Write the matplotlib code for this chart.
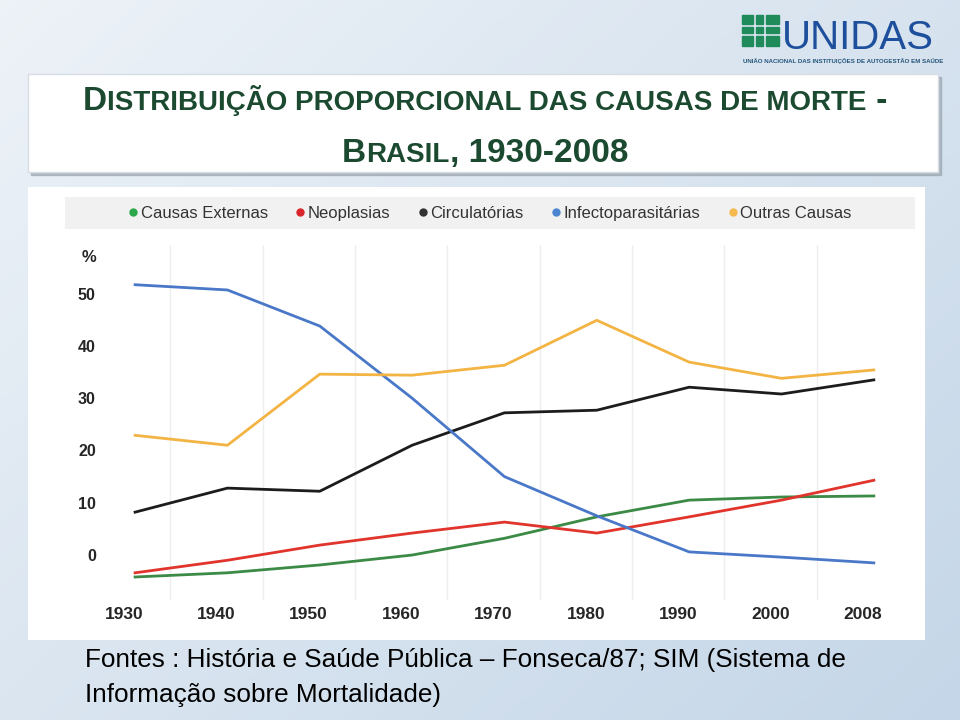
import numpy as np
import matplotlib
matplotlib.use("Agg")
import matplotlib.pyplot as plt
from matplotlib.patches import Rectangle
from matplotlib.lines import Line2D

# dados (% sobre o eixo como desenhado)
anos = ["1930", "1940", "1950", "1960", "1970", "1980", "1990", "2000", "2008"]
causas_externas = [-4.2, -3.4, -1.9, 0.0, 3.2, 7.3, 10.5, 11.1, 11.3]
neoplasias = [-3.4, -1.0, 1.9, 4.2, 6.3, 4.2, 7.3, 10.5, 14.3]
circulatorias = [8.2, 12.8, 12.2, 21.0, 27.2, 27.7, 32.1, 30.8, 33.5]
infectoparasitarias = [51.7, 50.7, 43.8, 30.0, 15.0, 7.5, 0.6, -0.4, -1.5]
outras_causas = [22.9, 21.0, 34.6, 34.4, 36.3, 44.9, 36.9, 33.8, 35.4]
y_ticks = [0, 10, 20, 30, 40, 50]

series = [
    ("Causas Externas", causas_externas, "#3b8a45", "#2aa84a"),
    ("Neoplasias", neoplasias, "#e0342c", "#d9262a"),
    ("Circulatórias", circulatorias, "#1c1c1c", "#333333"),
    ("Infectoparasitárias", infectoparasitarias, "#4a78c8", "#4a86d0"),
    ("Outras Causas", outras_causas, "#f3b444", "#f5b94d"),
]

FONT = ["Liberation Sans", "DejaVu Sans"]
TITLE_GREEN = "#1c4a30"

fig = plt.figure(figsize=(9.6, 7.2), dpi=100)

# fundo do slide (pixels)
bg = fig.add_axes([0, 0, 1, 1])
bg.set_xlim(0, 960)
bg.set_ylim(720, 0)
bg.axis("off")
xx, yy = np.meshgrid(np.linspace(0, 1, 240), np.linspace(0, 1, 180))
t = np.clip(0.55 * xx + 0.45 * yy, 0, 1)[..., None]
c0 = np.array([0.93, 0.95, 0.97])
c1 = np.array([0.77, 0.84, 0.91])
bg.imshow(c0 * (1 - t) + c1 * t, extent=[0, 960, 720, 0], aspect="auto", zorder=0)

# logo
green = "#1f8a5a"
for cx, w in [(742, 12), (756, 8), (766, 14)]:
    for cy, h in [(15, 10), (27, 7), (36, 11)]:
        bg.add_patch(Rectangle((cx, cy), w - 1.5, h - 1.5, color=green, zorder=2))
bg.text(782, 49, "UNIDAS", family=FONT, fontsize=29, color="#1d4f9c",
        ha="left", va="baseline", zorder=2)
bg.text(843, 63, "UNIÃO NACIONAL DAS INSTITUIÇÕES DE AUTOGESTÃO EM SAÚDE",
        family=FONT, fontsize=4.4, weight="bold", color="#24557a",
        ha="center", va="baseline", zorder=2)

# caixa do título
bg.add_patch(Rectangle((31, 77), 910, 98, color="#8e98a3", alpha=0.55, zorder=1))
bg.add_patch(Rectangle((28, 74), 910, 98, facecolor="white", edgecolor="#d8dde2", lw=1, zorder=2))

renderer = fig.canvas.get_renderer()


def small_caps_line(y, runs, center=485):
    texts = []
    for s, size in runs:
        texts.append(bg.text(0, y, s, family=FONT, weight="bold",
                             fontsize=size, color=TITLE_GREEN, ha="left",
                             va="baseline", zorder=3))
    widths = [tx.get_window_extent(renderer).width for tx in texts]
    x = center - sum(widths) / 2
    for tx, w in zip(texts, widths):
        tx.set_x(x)
        x += w


small_caps_line(110, [("D", 24), ("ISTRIBUIÇÃO PROPORCIONAL DAS CAUSAS DE MORTE", 20),
                      (" -", 24)])
small_caps_line(162, [("B", 24), ("RASIL", 20), (", 1930-2008", 24)])

# painel do gráfico
bg.add_patch(Rectangle((28, 187), 897, 453, facecolor="white", edgecolor="none", zorder=1))
bg.add_patch(Rectangle((65, 197), 850, 32, facecolor="#f1f1f1", edgecolor="none", zorder=1))

# rodapé
bg.text(85, 667, "Fontes : História e Saúde Pública – Fonseca/87; SIM (Sistema de",
        family=FONT, fontsize=18.8, color="black", ha="left", va="baseline", zorder=3)
bg.text(85, 702, "Informação sobre Mortalidade)",
        family=FONT, fontsize=18.8, color="black", ha="left", va="baseline", zorder=3)

# gráfico de linhas
ax = fig.add_axes([100 / 960, 1 - 600 / 720, 808 / 960, 355 / 720])
ax.set_facecolor("none")
x = np.arange(len(anos))
for nome, vals, cor, _ in series:
    ax.plot(x + 0.12, vals, color=cor, lw=2)

ax.set_xlim(-0.26, 8.49)
ax.set_ylim(-8.6, 59.3)
ax.set_xticks(x)
ax.set_xticklabels(anos)
ax.set_xticks(x[:-1] + 0.5, minor=True)
ax.set_yticks(y_ticks)
ax.grid(axis="x", which="minor", color="#eeeeee", lw=1)
ax.tick_params(which="both", length=0)
ax.tick_params(axis="x", pad=5)
ax.tick_params(axis="y", pad=3)
for lab in ax.get_xticklabels():
    lab.set_family(FONT)
    lab.set_fontsize(12.5)
    lab.set_weight("bold")
    lab.set_color("#262626")
for lab in ax.get_yticklabels():
    lab.set_family(FONT)
    lab.set_fontsize(11.5)
    lab.set_weight("bold")
    lab.set_color("#262626")
for sp in ax.spines.values():
    sp.set_visible(False)
ax.text(-0.004, 1.0 - 13 / 355, "%", transform=ax.transAxes, family=FONT,
        fontsize=12, weight="bold", color="#262626", ha="right", va="center")

handles = [Line2D([], [], ls="none", marker="o", markersize=5, color=mc, label=nome)
           for nome, _, _, mc in series]
leg = fig.legend(handles=handles, loc="center", ncol=5, frameon=False,
                 bbox_to_anchor=(490 / 960, 1 - 213 / 720),
                 handlelength=0.6, handletextpad=0.15, columnspacing=1.65,
                 prop={"family": FONT, "size": 12})
for tx in leg.get_texts():
    tx.set_color("#333333")

fig.savefig("out.png", dpi=100)
